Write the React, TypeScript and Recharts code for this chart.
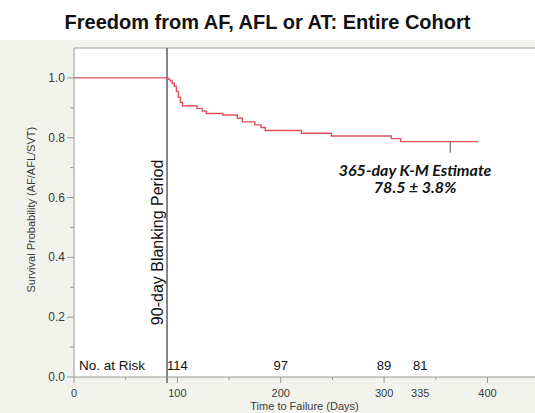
import React from 'react';
import {
  LineChart,
  Line,
  XAxis,
  YAxis,
  CartesianGrid,
  ReferenceLine,
  ReferenceDot,
} from 'recharts';

// Kaplan-Meier steps
const kmDays = [0, 91, 93, 95, 97, 99, 101, 103, 105, 119, 124, 128, 144, 158, 163, 175, 181, 185, 220, 249, 307, 316, 391];
const kmSurv = [1, 0.995, 0.99, 0.982, 0.972, 0.955, 0.935, 0.918, 0.907, 0.898, 0.889, 0.881, 0.876, 0.865, 0.853, 0.843, 0.834, 0.824, 0.815, 0.806, 0.797, 0.787, 0.787];

const xTicks = [0, 50, 100, 150, 200, 250, 300, 335, 350, 400];
const xLabelled = [0, 100, 200, 300, 335, 400];
const yTicks = [0, 0.1, 0.2, 0.3, 0.4, 0.5, 0.6, 0.7, 0.8, 0.9, 1.0];

const riskDays = [100, 200, 300, 335];
const riskCounts = [114, 97, 89, 81];

const blankingDay = 90;
const estimateDay = 364;
const estimateValue = 0.787;

const data = kmDays.map((d, i) => ({ day: d, s: kmSurv[i] }));

const AXIS = '#9a9a9a';
const TEXT = '#3a3a3a';
const FONT = '"Liberation Sans", Arial, sans-serif';

const XTick = (props: any) => {
  const { x, y, payload } = props;
  const v = payload.value;
  const major = v % 100 === 0;
  const len = v === 335 ? 0 : major ? 6 : 3;
  return (
    <g>
      {len > 0 && <line x1={x} x2={x} y1={y} y2={y + len} stroke={AXIS} />}
      {xLabelled.includes(v) && (
        <text x={x} y={y + 20} textAnchor="middle" fontSize={11} fill={TEXT} fontFamily={FONT}>
          {v}
        </text>
      )}
    </g>
  );
};

const YTick = (props: any) => {
  const { x, y, payload } = props;
  const v = payload.value;
  const major = Math.round(v * 10) % 2 === 0;
  return (
    <g>
      <line x1={x - (major ? 7 : 4)} x2={x} y1={y} y2={y} stroke={AXIS} />
      {major && (
        <text x={x - 9} y={y + 4} textAnchor="end" fontSize={12} fill={TEXT} fontFamily={FONT}>
          {v.toFixed(1)}
        </text>
      )}
    </g>
  );
};

export default function App() {
  return (
    <div style={{ position: 'absolute', left: 0, top: 0, width: 535, height: 413, background: '#fff' }}>
      <div style={{ position: 'absolute', left: 0, top: 40, width: 535, height: 373, background: '#f3f3ee' }} />
      <div
        style={{
          position: 'absolute',
          left: 0,
          top: 10,
          width: 535,
          textAlign: 'center',
          fontFamily: FONT,
          fontWeight: 'bold',
          fontSize: 20,
          lineHeight: '24px',
          color: '#111',
        }}
      >
        Freedom from AF, AFL or AT: Entire Cohort
      </div>
      <div style={{ position: 'absolute', left: 0, top: 0 }}>
        <LineChart width={535} height={413} data={data} margin={{ top: 48, right: 0, bottom: 0, left: 0 }}>
          <CartesianGrid fill="#fff" horizontal={false} vertical={false} />
          <XAxis
            dataKey="day"
            type="number"
            domain={[0, 446]}
            ticks={xTicks}
            interval={0}
            height={36}
            tickSize={0}
            tickMargin={0}
            tickLine={false}
            stroke={AXIS}
            tick={<XTick />}
            label={{ value: 'Time to Failure (Days)', position: 'insideBottom', offset: 3, fontSize: 11, fill: TEXT, fontFamily: FONT }}
          />
          <YAxis
            type="number"
            domain={[0, 1.1]}
            ticks={yTicks}
            interval={0}
            width={74}
            tickSize={0}
            tickMargin={0}
            tickLine={false}
            stroke={AXIS}
            tick={<YTick />}
            label={{
              value: 'Survival Probability (AF/AFL/SVT)',
              angle: -90,
              position: 'insideLeft',
              offset: 31,
              dy: 80,
              fontSize: 11,
              fill: TEXT,
              fontFamily: FONT,
            }}
          />
          <ReferenceLine y={1.1} stroke={AXIS} />
          <ReferenceLine
            segment={[{ x: blankingDay, y: 1.1 }, { x: blankingDay, y: -0.02 }]}
            stroke="#555"
            strokeWidth={1.4}
            ifOverflow="visible"
          />
          <ReferenceDot
            x={blankingDay}
            y={0.45}
            r={0}
            ifOverflow="visible"
            shape={(p: any) => (
              <text
                x={p.cx - 10}
                y={p.cy}
                transform={`rotate(-90, ${p.cx - 10}, ${p.cy})`}
                textAnchor="middle"
                dominantBaseline="central"
                fontSize={16}
                fill="#111"
                fontFamily={FONT}
              >
                90-day Blanking Period
              </text>
            )}
          />
          <Line
            type="stepAfter"
            dataKey="s"
            stroke="#e0525c"
            strokeWidth={1.4}
            dot={false}
            isAnimationActive={false}
          />
          <ReferenceLine
            segment={[{ x: estimateDay, y: estimateValue }, { x: estimateDay, y: estimateValue - 0.037 }]}
            stroke="#555"
          />
          <ReferenceDot
            x={330}
            y={0.692}
            r={0}
            shape={(p: any) => (
              <text
                x={p.cx}
                y={p.cy}
                textAnchor="middle"
                fontSize={16}
                fontWeight="bold"
                fontStyle="italic"
                fill="#111"
                fontFamily="Lato, sans-serif"
              >
                <tspan x={p.cx} dy="0.35em">365-day K-M Estimate</tspan>
                <tspan x={p.cx} dy="1.1em">78.5 ± 3.8%</tspan>
              </text>
            )}
          />
          <ReferenceDot
            x={0}
            y={0.04}
            r={0}
            shape={(p: any) => (
              <text x={p.cx + 5} y={p.cy} dominantBaseline="central" fontSize={13.5} fill="#111" fontFamily={FONT}>
                No. at Risk
              </text>
            )}
          />
          {riskDays.map((d, i) => (
            <ReferenceDot
              key={d}
              x={d}
              y={0.04}
              r={0}
              shape={(p: any) => (
                <text x={p.cx} y={p.cy} textAnchor="middle" dominantBaseline="central" fontSize={13} fill="#111" fontFamily={FONT}>
                  {riskCounts[i]}
                </text>
              )}
            />
          ))}
        </LineChart>
      </div>
    </div>
  );
}
